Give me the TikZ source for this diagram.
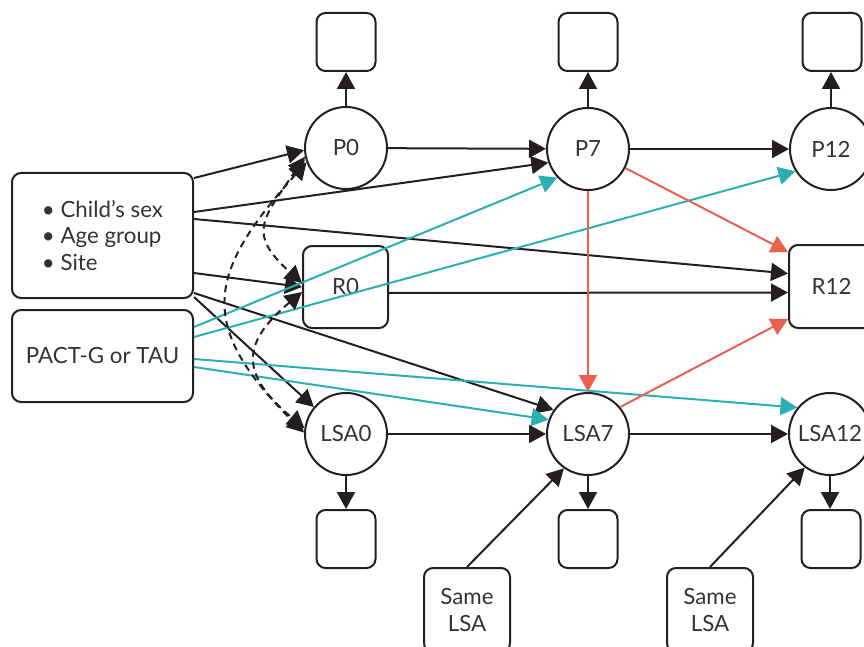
\documentclass[tikz,border=0pt]{standalone}
\usepackage{fontspec}
\setmainfont{Lato}
\usetikzlibrary{arrows.meta}
\definecolor{linec}{HTML}{231F20}
\definecolor{txt}{HTML}{333333}
\definecolor{teal2}{HTML}{2CAFB3}
\definecolor{red2}{HTML}{EA604E}
\begin{document}
\begin{tikzpicture}[x=1pt,y=1pt,
  every node/.style={text=txt, font=\fontsize{22.3}{26.5}\selectfont},
  circ/.style={circle, draw=linec, line width=2pt, minimum size=82pt, inner sep=0pt},
  rbox/.style={draw=linec, rounded corners=9pt, line width=2pt, inner sep=0pt},
  sbox/.style={rbox, minimum width=59pt, minimum height=58pt},
  arr/.style={-{Triangle[length=17pt,width=18pt]}, line width=2pt, color=linec},
  tarr/.style={arr, color=teal2},
  rarr/.style={arr, color=red2},
  darr/.style={{Triangle[length=17pt,width=18pt]}-{Triangle[length=17pt,width=18pt]}, line width=2pt, color=linec, dash pattern=on 7pt off 5pt},
]
\useasboundingbox (0,0) rectangle (864,-647);

\node[rbox, minimum width=181pt, minimum height=125pt, align=left] (cov) at (102.5,-235.5) {• Child’s sex\\• Age group\\• Site};
\node[rbox, minimum width=181pt, minimum height=92pt] (pact) at (102.5,-356) {PACT-G or TAU};

\node[circ] (p0) at (346,-148) {P0};
\node[circ] (p7) at (588,-149) {P7};
\node[circ] (p12) at (831,-149) {P12};
\node[rbox, minimum width=85pt, minimum height=82pt] (r0) at (345.5,-287) {R0};
\node[rbox, minimum width=85pt, minimum height=83pt] (r12) at (831.5,-286.5) {R12};
\node[circ] (lsa0) at (346,-434) {LSA0};
\node[circ] (lsa7) at (588,-434) {LSA7};
\node[circ] (lsa12) at (830,-434) {LSA12};

\node[sbox] (bp0) at (346,-42) {};
\node[sbox] (bp7) at (588,-42) {};
\node[sbox] (bp12) at (832,-42) {};
\node[sbox] (bl0) at (346,-539) {};
\node[sbox] (bl7) at (588,-539) {};
\node[sbox] (bl12) at (831,-539) {};

\node[rbox, minimum width=86pt, minimum height=84pt, align=center] (s1) at (467,-610) {Same\\LSA};
\node[rbox, minimum width=86pt, minimum height=84pt, align=center] (s2) at (710,-610) {Same\\LSA};

% vertical outcome arrows
\draw[arr] (p0) -- (bp0);
\draw[arr] (p7) -- (bp7);
\draw[arr] (p12.north) -- (p12.north |- bp12.south);
\draw[arr] (lsa0) -- (bl0);
\draw[arr] (lsa7) -- (bl7);
\draw[arr] (lsa12.south) -- (lsa12.south |- bl12.north);

% horizontal arrows
\draw[arr] (p0) -- (p7);
\draw[arr] (p7) -- (p12);
\draw[arr] ([yshift=-6pt]r0.east) -- ([yshift=-6pt]r12.west);
\draw[arr] (lsa0) -- (lsa7);
\draw[arr] (lsa7) -- (lsa12);

% covariates
\draw[arr] ([yshift=57.5pt]cov.east) -- (p0.183);
\draw[arr] ([yshift=23.5pt]cov.east) -- (p7.199);
\draw[arr] ([yshift=16.5pt]cov.east) -- ([yshift=13pt]r12.west);
\draw[arr] ([yshift=-37.5pt]cov.east) -- (r0.west);
\draw[arr] ([yshift=-57.5pt]cov.east) -- (lsa7.145);
\draw[arr] ([yshift=-61.5pt]cov.east) -- (lsa0.140);

% treatment
\draw[tarr] ([yshift=29pt]pact.east) -- (p7.223);
\draw[tarr] ([yshift=19pt]pact.east) -- (p12.212);
\draw[tarr] ([yshift=-3pt]pact.east) -- (lsa12.141);
\draw[tarr] ([yshift=-11pt]pact.east) -- (lsa7.160);

% red
\draw[rarr] (p7) -- (lsa7);
\draw[rarr] (p7.-27) -- ([yshift=-8pt]r12.north west);
\draw[rarr] (lsa7.40) -- ([yshift=10pt]r12.south west);

% same LSA
\draw[arr] (s1.north) -- (lsa7.235);
\draw[arr] (s2.north) -- (lsa12.233);

% correlations
\draw[darr] (p0.192) .. controls +(236:75) and +(138:75) .. ([yshift=4pt]r0.west);
\draw[darr] (p0.200) .. controls +(228:151) and +(135:151) .. (lsa0.178);
\draw[darr] ([yshift=-5pt]r0.west) .. controls +(220:82) and +(140:82) .. (lsa0.172);
\end{tikzpicture}
\end{document}
